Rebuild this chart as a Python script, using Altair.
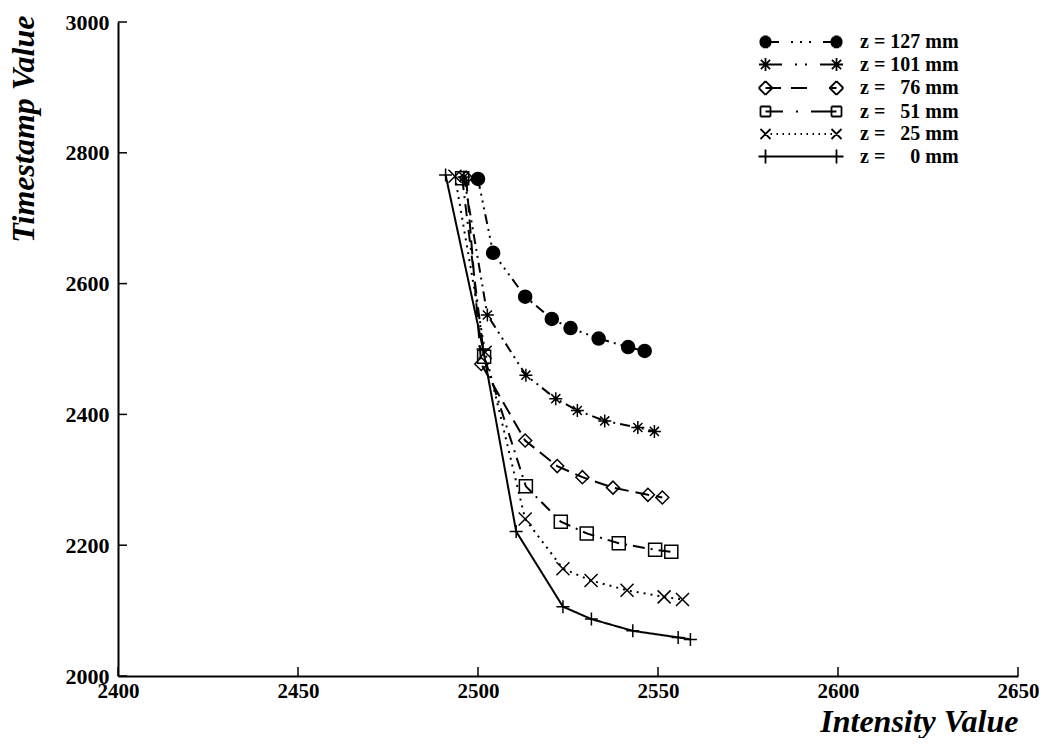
import math
import altair as alt
import pandas as pd

# ---------------- data ----------------
SERIES = ["z = 127 mm", "z = 101 mm", "z = \u200776 mm",
          "z = \u200751 mm", "z = \u200725 mm", "z = \u2007\u20070 mm"]

X_127 = [2500.0, 2504.2, 2513.1, 2520.5, 2525.7, 2533.5, 2541.7, 2546.3]
Y_127 = [2760, 2647, 2580, 2546, 2532, 2516, 2503, 2497]

X_101 = [2496.1, 2502.6, 2513.3, 2521.6, 2527.6, 2535.2, 2544.4, 2549.0]
Y_101 = [2763, 2552, 2460, 2424, 2406, 2390, 2380, 2374]

X_76 = [2496.7, 2500.9, 2513.1, 2522.0, 2529.0, 2537.5, 2547.2, 2551.2]
Y_76 = [2762, 2477, 2360, 2321, 2304, 2288, 2277, 2273]

X_51 = [2495.6, 2501.7, 2513.3, 2523.0, 2530.2, 2539.1, 2549.2, 2553.7]
Y_51 = [2761, 2488, 2290, 2236, 2218, 2203, 2193, 2190]

X_25 = [2493.6, 2502.0, 2513.1, 2523.6, 2531.4, 2541.4, 2551.7, 2556.8]
Y_25 = [2764, 2495, 2240, 2164, 2146, 2131, 2121, 2117]

X_0 = [2491.0, 2501.4, 2510.6, 2523.6, 2531.5, 2543.0, 2555.6, 2559.0]
Y_0 = [2766, 2500, 2221, 2106, 2087, 2069, 2059, 2056]

X_TICKS = [2400, 2450, 2500, 2550, 2600, 2650]
Y_TICKS = [2000, 2200, 2400, 2600, 2800, 3000]

XS = [X_127, X_101, X_76, X_51, X_25, X_0]
YS = [Y_127, Y_101, Y_76, Y_51, Y_25, Y_0]

rows = []
for name, xs, ys in zip(SERIES, XS, YS):
    for i, (xv, yv) in enumerate(zip(xs, ys)):
        rows.append({"series": name, "x": xv, "y": yv, "idx": i})
df = pd.DataFrame(rows)

# ---------------- styles ----------------
W, H = 900, 654
FONT = "Liberation Serif"

DASHES = [[10, 5, 2, 5, 2, 5, 2, 5], [10, 5, 2, 5, 2, 5], [14, 7],
          [12, 6, 2, 6], [2, 5], [1, 0]]
SHAPES = [
    "circle",
    "M-1,0L1,0M0,-1L0,1M-0.7,-0.7L0.7,0.7M-0.7,0.7L0.7,-0.7",
    "M-1,0L0,-1L1,0L0,1Z",
    "M-1,-1L1,-1L1,1L-1,1Z",
    "M-1,-1L1,1M-1,1L1,-1",
    "M-1,0L1,0M0,-1L0,1",
]
SIZES = [169, 169, 225, 110, 121, 196]
FILLS = ["black", "transparent", "transparent", "transparent", "transparent", "transparent"]


# legend symbols: line sample with a marker at each end (unit = 10 px)
E = 3.55


def line_seg(x1, y1, x2, y2):
    return f"M{x1:.2f},{y1:.2f}L{x2:.2f},{y2:.2f}"


def seg(a, b):
    return line_seg(a, 0, b, 0)


def m_circle(c):
    # solid disc drawn with stroked scanlines
    r = 0.6
    out = []
    yy = -r + 0.04
    while yy <= r - 0.04:
        hw = math.sqrt(max(r * r - yy * yy, 0))
        out.append(line_seg(c - hw, yy, c + hw, yy))
        yy += 0.1
    return "".join(out)


def m_star(c):
    r = 0.65
    d = 0.46
    return (line_seg(c - r, 0, c + r, 0) + line_seg(c, -r, c, r)
            + line_seg(c - d, -d, c + d, d) + line_seg(c - d, d, c + d, -d))


def m_diamond(c):
    r = 0.68
    p = [(c - r, 0), (c, -r), (c + r, 0), (c, r)]
    return "".join(line_seg(*p[k], *p[(k + 1) % 4]) for k in range(4))


def m_square(c):
    r = 0.5
    p = [(c - r, -r), (c + r, -r), (c + r, r), (c - r, r)]
    return "".join(line_seg(*p[k], *p[(k + 1) % 4]) for k in range(4))


def m_x(c):
    r = 0.5
    return line_seg(c - r, -r, c + r, r) + line_seg(c - r, r, c + r, -r)


def m_plus(c):
    r = 0.7
    return line_seg(c - r, 0, c + r, 0) + line_seg(c, -r, c, r)


dot_segments = []
t = -E + 0.5
while t < E - 0.4:
    dot_segments.append((t, t + 0.15))
    t += 0.6

LEG_SEGS = [
    [(-E, -2.2), (-1.0, -0.8), (-0.1, 0.1), (0.8, 1.0), (2.2, E)],
    [(-E, -1.9), (-0.6, -0.4), (0.4, 0.6), (1.9, E)],
    [(-E, -2.0), (-1.0, 0.6), (2.8, E)],
    [(-E, -1.8), (-0.5, -0.3), (1.0, E)],
    dot_segments,
    [(-E, E)],
]
LEG_MARK = [m_circle, m_star, m_diamond, m_square, m_x, m_plus]
LEG_SHAPES = []
for segs, mk in zip(LEG_SEGS, LEG_MARK):
    LEG_SHAPES.append("".join(seg(a, b) for a, b in segs) + mk(-E) + mk(E))

xscale = alt.Scale(domain=[2400, 2650], nice=False, zero=False)
yscale = alt.Scale(domain=[2000, 3000], nice=False, zero=False)

x_axis = alt.Axis(values=X_TICKS, format="d", tickSize=0, ticks=False, grid=False,
                  domainColor="black", domainWidth=2,
                  labelFont=FONT, labelFontSize=21, labelFontWeight="bold",
                  labelColor="black", labelPadding=4, labelFlush=False,
                  labelOverlap=False,
                  title="Intensity Value", titleFont=FONT, titleFontSize=32,
                  titleFontWeight="bold", titleFontStyle="italic", titleColor="black",
                  titleAlign="right", titleBaseline="alphabetic", titleX=W, titleY=55)
y_axis = alt.Axis(values=Y_TICKS, format="d", tickSize=0, ticks=False, grid=False,
                  domainColor="black", domainWidth=2,
                  labelFont=FONT, labelFontSize=22, labelFontWeight="bold",
                  labelColor="black", labelPadding=9, labelFlush=False,
                  labelOverlap=False,
                  title="Timestamp Value", titleFont=FONT, titleFontSize=32,
                  titleFontWeight="bold", titleFontStyle="italic", titleColor="black",
                  titleAngle=270, titleAlign="right", titleBaseline="alphabetic",
                  titleX=-85, titleY=-7)

base = alt.Chart(df)
XENC = alt.X("x:Q", scale=xscale, axis=x_axis)
YENC = alt.Y("y:Q", scale=yscale, axis=y_axis)

lines = base.mark_line(strokeWidth=2, color="black").encode(
    x=XENC, y=YENC,
    detail="series:N",
    strokeDash=alt.StrokeDash("series:N", scale=alt.Scale(domain=SERIES, range=DASHES), legend=None),
    order="idx:Q",
)

points = base.mark_point(filled=True, stroke="black", strokeWidth=1.5, opacity=1).encode(
    x=XENC, y=YENC,
    shape=alt.Shape("series:N", scale=alt.Scale(domain=SERIES, range=SHAPES), legend=None),
    fill=alt.Fill("series:N", scale=alt.Scale(domain=SERIES, range=FILLS), legend=None),
    size=alt.Size("series:N", scale=alt.Scale(domain=SERIES, range=SIZES), legend=None),
)

legend_layer = base.mark_point(filled=False, color="black", strokeWidth=1.6, opacity=0).encode(
    x=XENC, y=YENC,
    shape=alt.Shape("series:N", scale=alt.Scale(domain=SERIES, range=LEG_SHAPES),
                    legend=alt.Legend(title=None, orient="none", legendX=672, legendY=9,
                                      symbolSize=400, symbolOpacity=1,
                                      symbolStrokeColor="black",
                                      symbolStrokeWidth=1.8, labelOffset=48,
                                      labelFont=FONT, labelFontSize=20,
                                      labelFontWeight="bold", labelColor="black",
                                      rowPadding=1.5, padding=0, labelLimit=300)),
)

xticks = alt.Chart(pd.DataFrame({"x": X_TICKS})).mark_rule(color="black", strokeWidth=1.5).encode(
    x=XENC,
    y=alt.value(H), y2=alt.value(H - 9),
)
yticks = alt.Chart(pd.DataFrame({"y": Y_TICKS})).mark_rule(color="black", strokeWidth=1.5).encode(
    y=YENC,
    x=alt.value(0), x2=alt.value(9),
)

chart = alt.layer(lines, points, legend_layer, xticks, yticks).resolve_scale(
    shape="independent"
).resolve_legend(shape="independent").properties(
    width=W, height=H, autosize="none", background="white",
    padding={"left": 110, "top": 14, "right": 21, "bottom": 62},
).configure_view(strokeWidth=0, stroke="transparent")

chart.save("out.html", embed_options={"renderer": "svg", "actions": False})
